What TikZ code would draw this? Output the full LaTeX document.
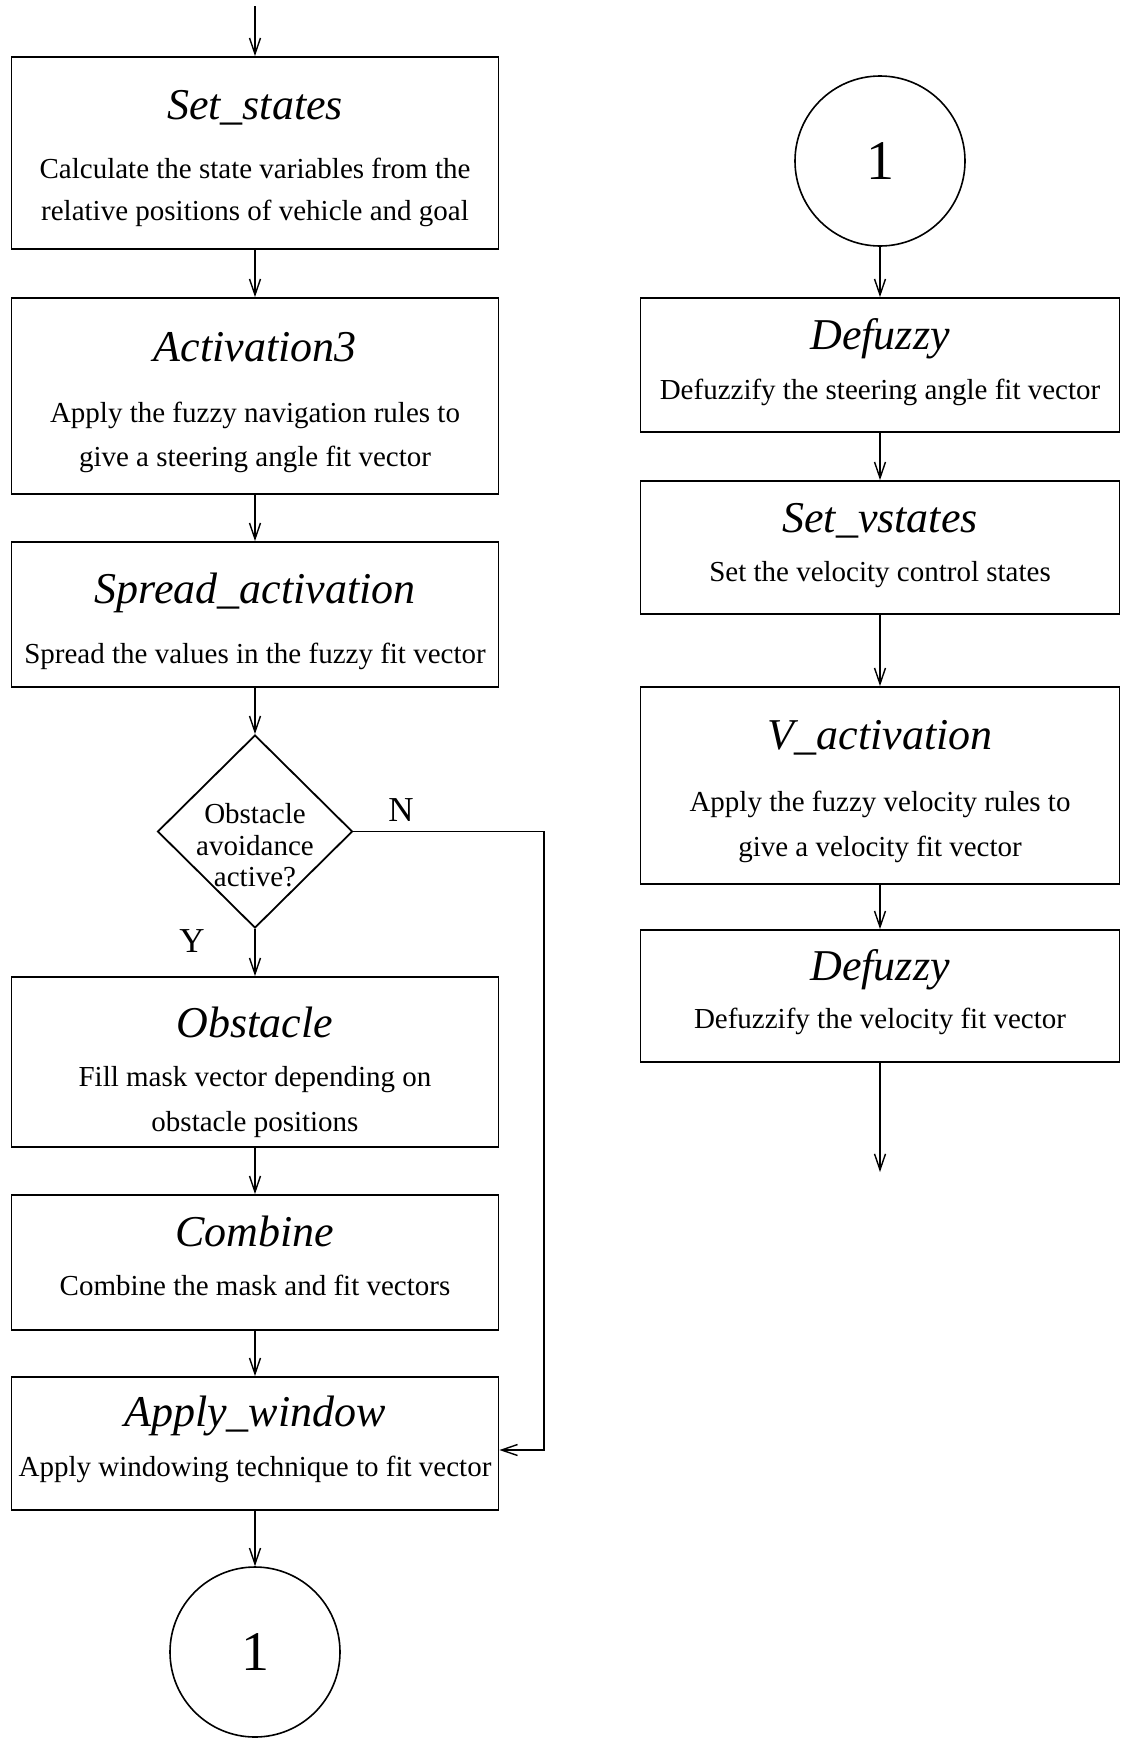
\documentclass[tikz,border=0pt]{standalone}
\usepackage{fontspec}
\setmainfont{Liberation Serif}
\usetikzlibrary{arrows.meta,shapes.geometric}
\begin{document}
\begin{tikzpicture}[x=1pt,y=-1pt,
  box/.style={draw,line width=1.8pt,rectangle,inner sep=0pt},
  lbox/.style={box,minimum width=487pt},
  rbox/.style={box,minimum width=479pt},
  conncircle/.style={draw,line width=1.6pt,circle,minimum size=170pt,inner sep=0pt,font=\fontsize{56}{56}\selectfont},
  ttl/.style={anchor=base,inner sep=0pt,font=\fontsize{44}{44}\selectfont\itshape},
  bdy/.style={anchor=base,inner sep=0pt,font=\fontsize{29}{42}\selectfont},
  yn/.style={inner sep=0pt,font=\fontsize{35}{35}\selectfont},
  conn/.style={line width=1.4pt,-{Straight Barb[length=16pt,width=11pt]}}
]
\useasboundingbox (0,0) rectangle (1123,1738);

% ---------- left column ----------
\node[lbox,minimum height=192pt] (ss) at (255,153) {};
\node[ttl] (ssT) at (255,119) {Set\_states};
\node[bdy] (ssA) at (255,178.5) {Calculate the state variables from the};
\node[bdy] (ssB) at (255,220.6) {relative positions of vehicle and goal};

\node[lbox,minimum height=196pt] (act) at (255,396) {};
\node[ttl] (actT) at (255,361) {Activation3};
\node[bdy] (actA) at (255,422) {Apply the fuzzy navigation rules to};
\node[bdy] (actB) at (255,466) {give a steering angle fit vector};

\node[lbox,minimum height=145pt] (spr) at (255,614.5) {};
\node[ttl] (sprT) at (255,603) {Spread\_activation};
\node[bdy] (sprA) at (255,663) {Spread the values in the fuzzy fit vector};

\node[draw,line width=1.8pt,diamond,minimum width=195pt,minimum height=193pt,inner sep=0pt] (dec) at (255,831.5) {};
\node[bdy] (decA) at (255,823) {Obstacle};
\node[bdy] (decB) at (255,855) {avoidance};
\node[bdy] (decC) at (255,886) {active?};
\node[yn] (lblN) at (401,810) {N};
\node[yn] (lblY) at (192,941) {Y};

\node[lbox,minimum height=170pt] (obs) at (255,1062) {};
\node[ttl] (obsT) at (255,1037) {Obstacle};
\node[bdy] (obsA) at (255,1086) {Fill mask vector depending on};
\node[bdy] (obsB) at (255,1131) {obstacle positions};

\node[lbox,minimum height=135pt] (comb) at (255,1262.5) {};
\node[ttl] (combT) at (255,1246) {Combine};
\node[bdy] (combA) at (255,1295) {Combine the mask and fit vectors};

\node[lbox,minimum height=133pt] (aw) at (255,1443.5) {};
\node[ttl] (awT) at (255,1426) {Apply\_window};
\node[bdy] (awA) at (255,1476) {Apply windowing technique to fit vector};

\node[conncircle] (c1) at (255,1652) {1};

\coordinate (start) at (255,6);
\coordinate (n1) at (544,831.5);
\coordinate (n2) at (544,1450);

\draw[conn] (start) -- (ss);
\draw[conn] (ss) -- (act);
\draw[conn] (act) -- (spr);
\draw[conn] (spr) -- (dec);
\draw[conn] (dec) -- (obs);
\draw[conn] (obs) -- (comb);
\draw[conn] (comb) -- (aw);
\draw[conn] (aw) -- (c1);
\draw[conn] (dec.east) -- (n1) -- (n2) -- (n2 -| aw.east);

% ---------- right column ----------
\node[conncircle] (c2) at (880,161) {1};

\node[rbox,minimum height=134pt] (dz1) at (880,365) {};
\node[ttl] (dz1T) at (880,349) {Defuzzy};
\node[bdy] (dz1A) at (880,399) {Defuzzify the steering angle fit vector};

\node[rbox,minimum height=133pt] (sv) at (880,547.5) {};
\node[ttl] (svT) at (880,532) {Set\_vstates};
\node[bdy] (svA) at (880,581) {Set the velocity control states};

\node[rbox,minimum height=197pt] (va) at (880,785.5) {};
\node[ttl] (vaT) at (880,749) {V\_activation};
\node[bdy] (vaA) at (880,811.5) {Apply the fuzzy velocity rules to};
\node[bdy] (vaB) at (880,856) {give a velocity fit vector};

\node[rbox,minimum height=132pt] (dz2) at (880,996) {};
\node[ttl] (dz2T) at (880,980) {Defuzzy};
\node[bdy] (dz2A) at (880,1028) {Defuzzify the velocity fit vector};

\coordinate (finish) at (880,1172);

\draw[conn] (c2) -- (dz1);
\draw[conn] (dz1) -- (sv);
\draw[conn] (sv) -- (va);
\draw[conn] (va) -- (dz2);
\draw[conn] (dz2) -- (finish);
\end{tikzpicture}
\end{document}
